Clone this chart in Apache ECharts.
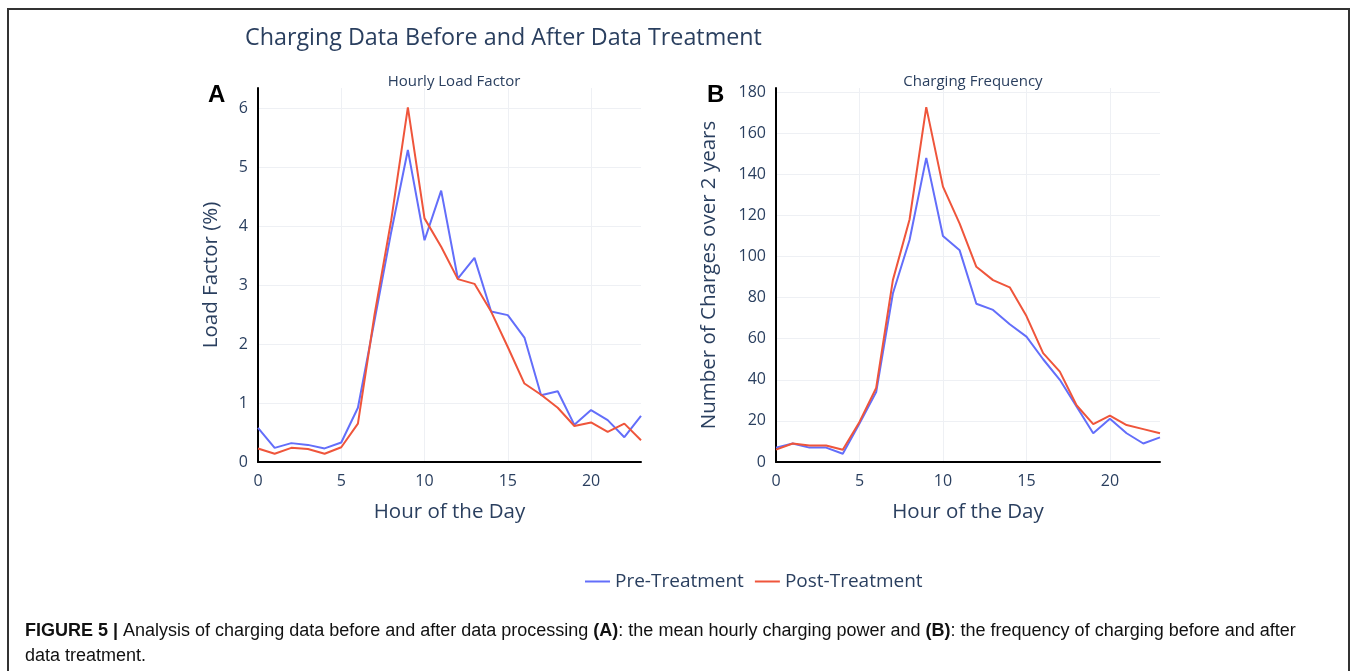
<!DOCTYPE html>
<html>
<head>
<meta charset="utf-8">
<script src="https://cdn.jsdelivr.net/npm/echarts@6/dist/echarts.min.js"></script>
<style>
  body { margin: 0; background: #fff; }
  #frame { position: absolute; left: 7px; top: 8px; width: 1343px; height: 700px; border: 2px solid #333; box-sizing: border-box; }
  #main { position: absolute; left: 0; top: 0; width: 1354px; height: 671px; }
  #caption { position: absolute; left: 25px; top: 618px; width: 1300px; font-family: "Liberation Sans", Arial, sans-serif; font-size: 18px; line-height: 25px; color: #111; }
</style>
</head>
<body>
<div id="frame"></div>
<div id="main"></div>
<div id="caption"><b>FIGURE 5 | </b>Analysis of charging data before and after data processing <b>(A)</b>: the mean hourly charging power and <b>(B)</b>: the frequency of charging before and after data treatment.</div>
<script>
// hours of the day
var hours = [0,1,2,3,4,5,6,7,8,9,10,11,12,13,14,15,16,17,18,19,20,21,22,23]
// A: hourly load factor (%)
var loadPre  = [0.58,0.24,0.32,0.29,0.23,0.33,0.92,2.4,3.9,5.29,3.76,4.6,3.11,3.46,2.55,2.49,2.11,1.13,1.2,0.63,0.88,0.71,0.42,0.78]
var loadPost = [0.23,0.14,0.24,0.22,0.14,0.25,0.65,2.5,4.1,6.01,4.13,3.65,3.1,3.02,2.55,1.95,1.33,1.14,0.92,0.61,0.67,0.51,0.65,0.37]
// B: number of charges over 2 years
var freqPre  = [7,9,7,7,4,18.7,34,82,108,148,110,103,77,74,67,61,50,40,27,14,21,14,9,12]
var freqPost = [6,9,8,8,6,19.5,36,88.5,118,172.7,134,116,95,88.5,85,71,53,44,27.6,18.4,22.6,18,16,14]

var fontColor = '#2a3f5f'
var font = 'Open Sans, Verdana, sans-serif'
var myChart = echarts.init(document.getElementById('main'))

function pairs (ys) {
  return hours.map(function (h, i) { return [h, ys[i]] })
}

function xAxisOf (idx) {
  return {
    type: 'value', gridIndex: idx, min: 0, max: 23, interval: 5,
    name: 'Hour of the Day', nameLocation: 'middle', nameGap: 40,
    nameTextStyle: { fontFamily: font, fontSize: 20.5, color: fontColor },
    axisLine: { show: true, onZero: false, lineStyle: { color: '#000', width: 2 } },
    axisTick: { show: false },
    axisLabel: {
      fontFamily: font, fontSize: 16, color: fontColor, margin: 11,
      formatter: function (v) { return v % 5 === 0 ? v : '' }
    },
    splitLine: { show: true, showMinLine: false, showMaxLine: false, lineStyle: { color: '#eef0f4', width: 1 } }
  }
}

function yAxisOf (idx, max, interval, name, gap) {
  return {
    type: 'value', gridIndex: idx, min: 0, max: max, interval: interval,
    name: name, nameLocation: 'middle', nameGap: gap,
    nameTextStyle: { fontFamily: font, fontSize: 20.5, color: fontColor },
    axisLine: { show: true, lineStyle: { color: '#000', width: 2 } },
    axisTick: { show: false },
    axisLabel: {
      fontFamily: font, fontSize: 16, color: fontColor, margin: 10,
      formatter: function (v) { return v % interval === 0 ? v : '' }
    },
    splitLine: { show: true, showMinLine: false, showMaxLine: false, lineStyle: { color: '#eef0f4', width: 1 } }
  }
}

function lineOf (name, data, color, idx) {
  return {
    name: name, type: 'line', xAxisIndex: idx, yAxisIndex: idx,
    data: pairs(data), symbol: 'none', color: color,
    lineStyle: { color: color, width: 2 }, animation: false
  }
}

var option = {
  animation: false,
  title: [
    { text: 'Charging Data Before and After Data Treatment', left: 240, top: 22,
      textStyle: { fontFamily: font, fontSize: 23.3, fontWeight: 'normal', color: fontColor } },
    { text: 'Hourly Load Factor', left: 449, top: 69, textAlign: 'center',
      textStyle: { fontFamily: font, fontSize: 15, fontWeight: 'normal', color: fontColor } },
    { text: 'Charging Frequency', left: 968, top: 69, textAlign: 'center',
      textStyle: { fontFamily: font, fontSize: 15, fontWeight: 'normal', color: fontColor } },
    { text: 'A', left: 203, top: 78,
      textStyle: { fontFamily: 'Liberation Sans, Arial, sans-serif', fontSize: 24, fontWeight: 'bold', color: '#000' } },
    { text: 'B', left: 702, top: 78,
      textStyle: { fontFamily: 'Liberation Sans, Arial, sans-serif', fontSize: 24, fontWeight: 'bold', color: '#000' } }
  ],
  legend: {
    top: 567, left: 580, icon: 'rect', itemWidth: 25, itemHeight: 2, itemGap: 11,
    textStyle: { fontFamily: font, fontSize: 19, color: fontColor },
    data: ['Pre-Treatment', 'Post-Treatment']
  },
  grid: [
    { left: 258, right: 713, top: 88, bottom: 209 },
    { left: 776, right: 194, top: 88, bottom: 209 }
  ],
  xAxis: [xAxisOf(0), xAxisOf(1)],
  yAxis: [
    yAxisOf(0, 6.34, 1, 'Load Factor (%)', 36),
    yAxisOf(1, 182, 20, 'Number of Charges over 2 years', 56)
  ],
  series: [
    lineOf('Pre-Treatment', loadPre, '#636efa', 0),
    lineOf('Post-Treatment', loadPost, '#ef553b', 0),
    lineOf('Pre-Treatment', freqPre, '#636efa', 1),
    lineOf('Post-Treatment', freqPost, '#ef553b', 1)
  ]
}
myChart.setOption(option)
</script>
</body>
</html>
